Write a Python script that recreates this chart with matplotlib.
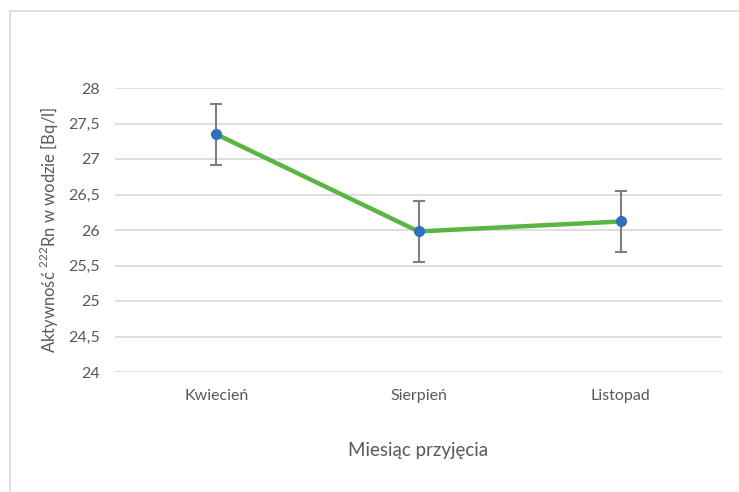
import matplotlib
matplotlib.use("Agg")
import matplotlib.pyplot as plt
from matplotlib.lines import Line2D
from matplotlib.ticker import FuncFormatter

plt.rcParams['font.family'] = ['Lato', 'DejaVu Sans']
plt.rcParams['mathtext.fontset'] = 'custom'
plt.rcParams['mathtext.rm'] = 'Lato'

months = ['Kwiecień', 'Sierpień', 'Listopad']
activity = [27.35, 25.98, 26.12]
errors = [0.43, 0.43, 0.43]

fig = plt.figure(figsize=(7.39, 4.92), dpi=100)
ax = fig.add_axes([115 / 739, 1 - 372 / 492, 607 / 739, 284 / 492])

x = list(range(len(months)))
ax.errorbar(x, activity, yerr=errors, fmt='none', ecolor='#7f7f7f',
            elinewidth=1.5, capsize=4, capthick=1.5, zorder=2)
ax.plot(x, activity, color='#5bb543', linewidth=3.2, zorder=3)
ax.plot(x, activity, 'o', color='#2e6fbf', markersize=7, zorder=4)

ax.set_xlim(-0.5, 2.5)
ax.set_ylim(24, 28)
ax.set_yticks([24 + 0.5 * i for i in range(9)])
ax.yaxis.set_major_formatter(FuncFormatter(lambda v, p: f'{v:g}'.replace('.', ',')))
ax.set_xticks(x)
ax.set_xticklabels(months)
ax.grid(axis='y', color='#d9d9d9', linewidth=1.2)
ax.set_axisbelow(True)
for s in ax.spines.values():
    s.set_visible(False)
ax.tick_params(length=0, colors='#595959', labelsize=11.5)
ax.tick_params(axis='y', pad=11)
ax.tick_params(axis='x', pad=12)

ax.set_ylabel('Aktywność $^{222}$Rn w wodzie [Bq/l]', fontsize=12, color='#595959', labelpad=5)
ax.set_xlabel('Miesiąc przyjęcia', fontsize=13.5, color='#595959', labelpad=28)

# chart frame
fig.add_artist(Line2D([10 / 739, 10 / 739], [0, 1 - 11 / 492], color='#d9d9d9', linewidth=1.2))
fig.add_artist(Line2D([10 / 739, 1], [1 - 11 / 492, 1 - 11 / 492], color='#d9d9d9', linewidth=1.2))

fig.savefig('out.png', dpi=100)
